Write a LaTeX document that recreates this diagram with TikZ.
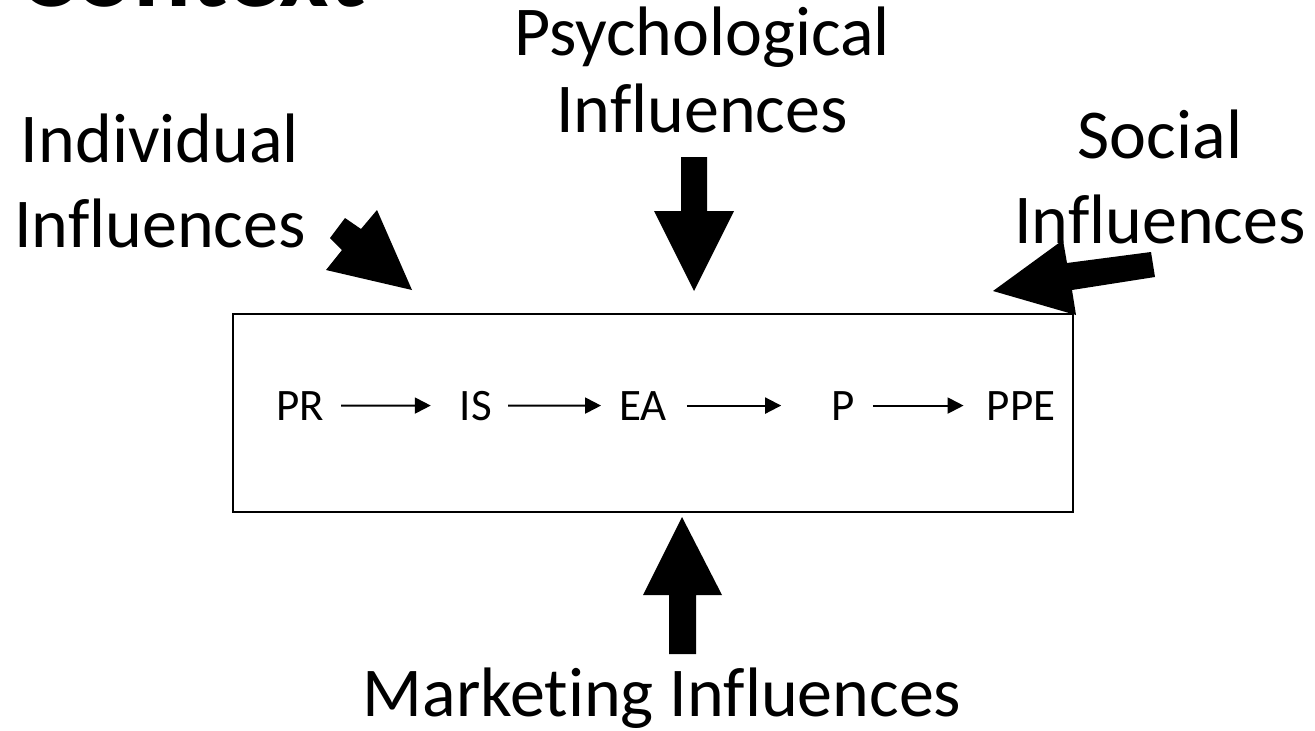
\documentclass[tikz,border=0pt]{standalone}
\usepackage{fontspec}
\setmainfont{Carlito}[Ligatures={NoCommon}]
\usetikzlibrary{arrows.meta}
\begin{document}
\begin{tikzpicture}[x=1pt,y=-1pt,
  lbl/.style={inner sep=0pt, anchor=base, font=\fontsize{70}{70}\selectfont},
  stage/.style={inner sep=0pt, anchor=base, font=\fontsize{45}{45}\selectfont},
  flow/.style={line width=2pt, -{Triangle[length=16pt,width=16pt]}},
  blockarrow/.style={fill=black, draw=none}]
\useasboundingbox (0,0) rectangle (1315,731);
\begin{scope}
\clip (0,0) rectangle (1315,731);
\node[inner sep=0pt, anchor=base west, font=\bfseries\fontsize{108}{108}\selectfont] (ctx) at (18,6) {Context};
\end{scope}
% central box
\node[draw, line width=2.2pt, minimum width=840pt, minimum height=198pt, inner sep=0pt] (box) at (653,413) {};
% stages
\node[stage] (pr) at (300,420) {PR};
\node[stage] (is) at (476,420) {IS};
\node[stage] (ea) at (643,420) {EA};
\node[stage] (p) at (843,420) {P};
\node[stage] (ppe) at (1021,420) {PPE};
\draw[flow, shorten <=17pt, shorten >=29pt] (pr.east) -- (is.west);
\draw[flow, shorten <=16pt, shorten >=18pt] (is.east) -- (ea.west);
\draw[flow, shorten <=20pt, shorten >=50pt] (ea.east) -- (p.west);
\draw[flow, shorten <=18pt, shorten >=23pt] (p.east) -- (ppe.west);
% labels
\node[lbl] (ind1) at (160,162) {Individual};
\node[lbl] (ind2) at (160,247) {Influences};
\node[lbl] (psy1) at (702,55) {Psychological};
\node[lbl] (psy2) at (702,132) {Influences};
\node[lbl] (soc1) at (1160,158) {Social};
\node[lbl] (soc2) at (1160,243) {Influences};
\node[lbl] (mkt) at (662,716) {Marketing Influences};
% block arrows
\fill[blockarrow] (412,290) -- (377,210) -- (361,229) -- (345,218) -- (330,238) -- (342,250) -- (326,270) -- cycle;
\fill[blockarrow] (681,157) -- (707,157) -- (707,211) -- (734,211) -- (694,291) -- (654,211) -- (681,211) -- cycle;
\fill[blockarrow] (993,291) -- (1063,240) -- (1067,263) -- (1151,252) -- (1155,277) -- (1072,290) -- (1076,315) -- cycle;
\fill[blockarrow] (682,517) -- (722,595) -- (696,595) -- (696,654) -- (669,654) -- (669,595) -- (643,595) -- cycle;
\end{tikzpicture}
\end{document}
